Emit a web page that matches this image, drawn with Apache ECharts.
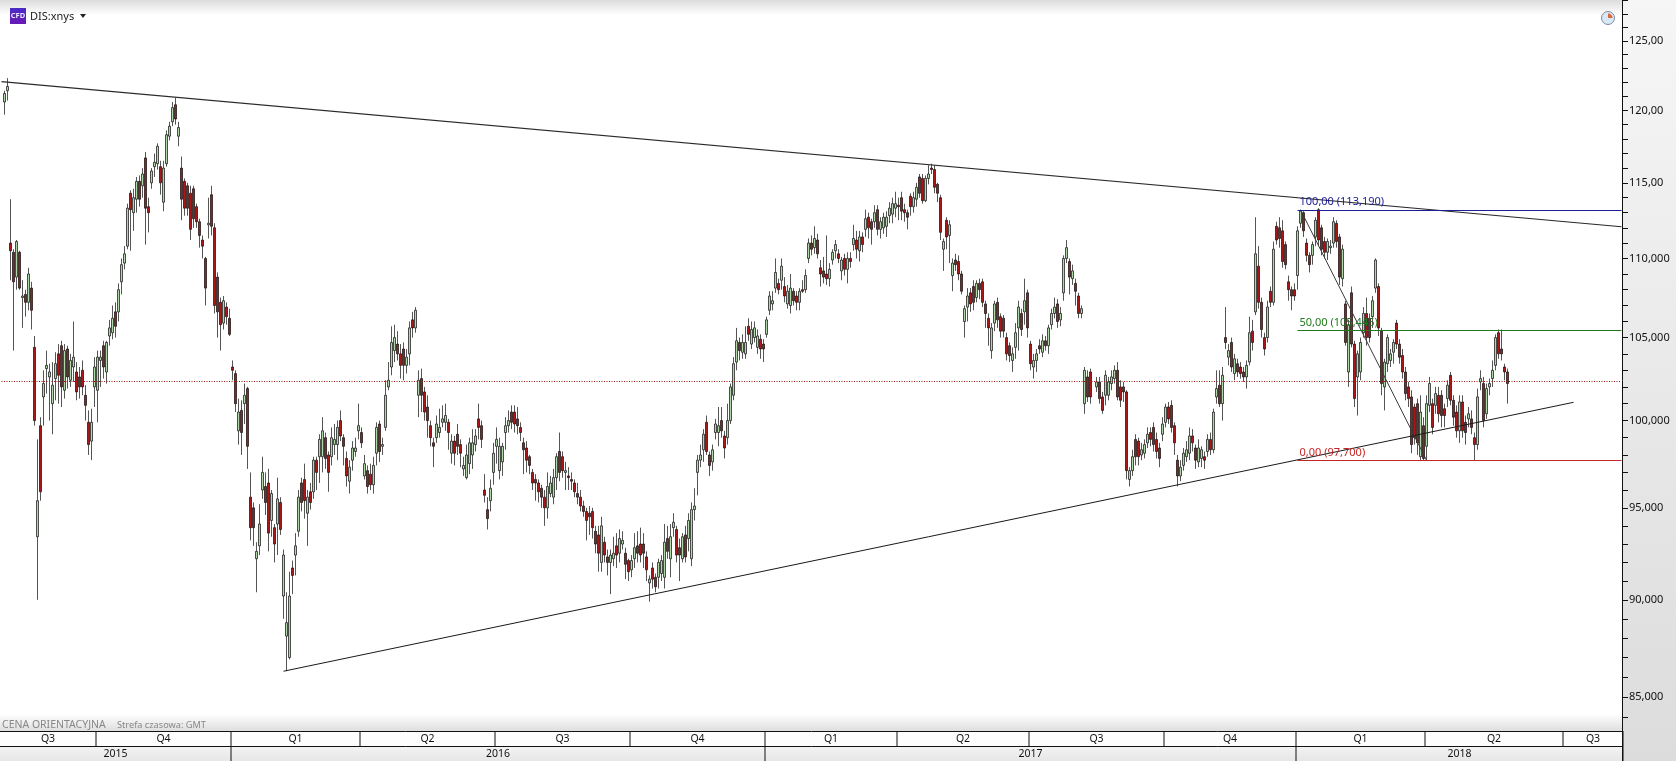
<!DOCTYPE html>
<html><head><meta charset="utf-8">
<style>html,body{margin:0;padding:0;background:#fff}#c{width:1676px;height:761px}</style>
<script src="https://cdn.jsdelivr.net/npm/echarts@6/dist/echarts.min.js"></script></head>
<body><div id="c"></div>
<script>
// rows: [open, close, low, high]
const ohlc2015=[
['-','-','-','-'],[120.6,121.2,119.7,121.4],[121.4,121.7,120.7,122.3],[111,110.5,108.6,113.9],[110.4,108.5,104.2,110.6],[108.8,111.1,108,111.2],[110.4,108.1,108,110.5],[107.5,107.6,105.6,108.6],[107.7,107.2,106.3,108],[107.2,109,106.7,109.4],[108.1,106.7,105.5,108.5],
[104.4,100,99.7,105.1],[93.4,95.4,90,98.9],[99.7,95.9,95.4,100.2],[101.4,102.2,99.7,103],[103.1,103.3,101.6,104.2],[102.6,102.9,100,103.4],[101,102.1,99.2,103.5],[102.5,103.4,101.2,104.1],[104,102.7,101,104.6],[104.5,102,100.8,104.8],[101.8,104.2,101.3,104.6],[104.3,102.6,101.9,104.5],[102.4,103.6,102,104],[103.2,103.8,102.3,106],[102.9,101.7,101.2,103.5],[102.6,102,101.3,103.2],[103,102,101.5,103.6],[101.5,100.9,100,102.1],[99.9,98.6,98,100.6],[98.8,99.9,97.7,100.7],[102,103.2,100.8,103.8],[101.8,103.8,99.9,104.2],[103.6,103.8,102,104.2],[104.5,103.2,102.5,104.8],[102.9,104.7,102.2,104.8],[105.1,105.6,104.5,106.1],[105.3,106.2,104.9,107],[106.6,105.7,105,107.2],[106.6,108,106,108.4],[108.5,109.6,107.7,110],[109.7,110.3,109.3,110.8],[110.8,113.3,110.6,113.6],[114.3,113.2,110.5,114.5],[113,114,111.8,114.6],[113.9,115.1,113,115.4],[115.1,113.9,113.4,115.5],[114.8,115.6,114,116],[116.7,113.3,110.9,117.1],[113.4,113,111.7,114],[115,115.8,114.6,116],[116.1,116.4,115.4,117],[116.3,117.5,115.9,117.7],[116.1,115,114.2,116.5],[113.7,116,113.1,116.5],[116.3,118.3,116.1,118.6],[118.2,118.9,117.9,119.2],[119.2,120.2,118.9,120.6],[120.4,119.4,119,120.9],[118.2,118.8,117.5,119.2],[116,113.9,112.5,116.8],[115.1,113.3,112.8,115.3],[114.8,113.3,112.8,115],[114.3,111.9,111.2,114.8],[114.6,112.6,112,114.8],[113.4,112.4,112,113.6],[112.4,111.5,110.7,112.6],[111.2,110.8,110,111.5],[110,108.1,107,110.1],[112.2,112.3,111.3,114],[114.2,112.1,111.5,114.8],[112,107,106.5,112.3],[108.8,106.6,105,109.1],[107.2,105.8,104.2,107.5],[105.9,107.3,105.5,107.6],[106.9,106.3,105.8,107.2],[106.2,105.2,105.1,106.8]];
const ohlc2016a=[
[103.2,103,102.4,103.6],[102.8,101,100.5,103],[99.4,100.5,98.6,101.3],[100.6,99.3,98,101.2],[101,101.5,99.8,102.2],[101.9,98.5,97.2,102],[95.6,93.9,93.2,97],[95,93.9,92.9,95.3],[92.2,92.6,90.4,93.1],[92.9,94.1,92.4,95.2],[96,97,95.5,97.9],[96.2,95.3,94.6,97],[96.4,93.6,92.6,97.2],[94.3,95.8,93.4,96],[93.9,93,92,94.1],[94.1,95.5,92.4,96.7],[95.3,93.8,93.5,95.6],[90.2,92.4,89,92.7],[88.1,88.8,86.3,90.4],[87,90.2,86.9,91.5],[91.7,91.3,90.3,92.1],[92.4,92.9,91.3,93.6],[93.7,95.6,93.4,96],[96.4,95.3,94.8,96.7],[96.6,95.4,94.4,97.5],[94.7,95.6,92.9,96],[95.9,95.3,94.9,96.4],[95.9,97.7,95.5,97.9],[97.7,97,96,97.9],[97.9,98.9,96.4,99.2],[97.9,99.4,97,100.2],[99,97.8,97.2,99.3],[98,97,95.9,98.2],[97.9,99,97.4,99.6],[98.6,98.9,98,99.8],[98.6,99.6,97.7,100],[100,99.1,98.8,100.6],[99,98.5,97.4,99.2],[97.8,96.8,96.2,98.2],[96.5,97.3,95.8,97.7],[97.7,98.4,97.1,98.8],[98.2,98.4,97.9,99],[99.4,99.7,98.9,101],[99.3,98.7,98.4,99.6],[96.8,97.5,96.6,98],[97.1,96.2,95.8,97.4],[96.9,96.3,96,97.5],[96.3,97.4,95.8,97.9],[98.1,99.6,97.4,99.9],[99.8,98.2,97.6,100],[98.5,98.6,98,99],[99.6,101.5,99.4,102.4],[102,102.4,101.8,103.5],[103.2,104.7,102.7,105.7],[104.2,105,103.5,105.8],[104.6,104,103.6,105.4],[104,103.3,102.5,104.6],[104.3,103.3,102.4,104.7],[103.3,103.8,102.8,104.3],[104,105.6,103.3,106],[106.1,105.6,105,106.6],[105.6,106.7,105.3,106.9]];
const ohlc2016b=[
[101.5,102.4,100.2,103],[102.5,101.5,100.5,103.1],[101.7,100.5,100,102],[100.8,100,99,101.5],[99.7,99,98.5,100],[98.7,98.5,97.3,99],[99,99.8,98.7,100.3],[99.3,99.6,99,100.7],[99.9,100.1,99.6,100.9],[99.9,100.3,99.4,101],[99.9,99.3,98.3,100.1],[98.1,98.8,97.5,99.2],[98.8,98.1,97.4,99.1],[99.2,98.5,98,99.8],[98.6,98.1,97.3,98.9],[97.2,97.4,96.8,97.9],[96.7,98,96.6,98.6],[97.5,98.7,96.9,99],[98,98.7,97.2,99.5],[98.6,99.1,98.2,99.5],[100.1,99.6,98.9,101],[99.7,98.9,98.4,100],[96,95.7,95.3,96.9],[94.9,94.4,93.8,95.6],[95.4,96.1,94.8,96.6],[97,98.1,96.3,98.7],[98.5,98.9,97.5,99.6],[97.1,98.5,96.6,99],[97.6,98.5,96.8,98.7],[99.3,99.7,98.3,100.2],[99.7,100,99.3,100.6],[100.5,99.9,99.5,100.9],[100.5,99.8,99.3,100.9],[100.1,99.7,99.2,100.8],[99.6,99.3,98.8,99.9],[98.7,98.3,96.9,99],[98.4,97.7,97,98.8],[97.9,97.4,96.9,98],[97,96.4,96,97.2],[96.6,96.4,95.4,96.9],[96.4,95.9,95.3,96.6],[96.1,95.6,95,96.3],[95.6,95,94,96],[95,96.2,94.4,97],[95.8,96.4,95.6,96.8],[95.6,96.7,95.2,97.2],[96.7,97.9,96,98.1],[98.2,97,96.5,99.3],[97.9,97.1,96.7,98.2],[97,97.1,96,97.6],[96.8,96.7,96,97.3],[96.6,96.5,96,97],[96.4,95.9,95.6,96.6],[95.8,95.6,95.2,96.4],[95.6,95.1,94.8,96],[95.1,94.8,94.5,95.4],[94.8,94.3,93.2,95],[94.7,94.5,93.5,95.1],[94.8,93.9,93.3,95],[93.7,93,92.5,94],[93.5,92.5,91.5,94],[92,94,91.5,94.5],[93.1,92.4,92,93.4],[92.3,92,91.3,92.7],[92,92.4,90.3,92.7],[92.2,92.5,91.8,93.4],[92.9,92.4,91.7,93.6],[92.5,93.3,92,93.8],[93,93.2,92.7,93.7],[92.5,91.9,91.1,92.8],[92.1,91.5,91,92.2],[91.6,92.1,91.2,92.4],[92.2,92.8,91.7,93.6],[92.9,92.5,92,93.7],[93,92.4,92,93.9],[93,92.5,91.7,93.6],[92.3,91.6,91,92.6],[90.9,91.1,89.9,91.3],[91.7,91.1,90.6,92],[91.2,90.7,90.4,91.4],[91.2,92,90.6,92.2],[91.4,92.1,91,92.4],[91.2,93.1,90.6,94.1],[93.3,92.6,92.2,94],[92.2,93.4,91.2,94.1],[93.9,94.2,93.4,94.7],[93.8,92.4,92,94],[92.8,92.4,91,93.3],[92.2,93.4,92,93.6],[93.5,92.3,92,94],[93.3,94.3,92.6,94.7],[92.2,94.9,91.8,95.3],[94.9,95.1,94.3,96.1],[97,97.7,95.7,98],[97.7,98,97.3,98.6],[98.3,99.2,97.6,99.5],[99.9,98.2,98,100.3],[98,97.4,96.8,98.2],[97.6,98.3,97.1,98.6],[99.3,99.8,98.9,100.1],[99.3,99.7,98.5,100.8],[100,99.4,99,100.8],[99.1,98.4,97.8,99.4],[99,100,98.6,101],[100,102,99.8,102.2],[101.5,103.4,101.2,103.8],[103.5,104.8,103,105.6],[104.7,104.2,103.6,105],[104.1,104.7,103.7,105.2],[104,104.7,103.7,105.7],[105.7,105.2,104.8,106.2],[104.6,105.5,104.3,106],[105,105.6,104.7,106],[104.4,105.1,104,105.5],[104.9,104.3,103.7,105.2],[104.6,104.3,103.5,104.9]];
const ohlc2017a=[
[105.2,106.1,105,106.3],[106.7,107.6,106.4,107.9],[107.1,107.3,106.7,107.9],[108.1,109.1,107.8,110],[108.4,108,107.7,108.7],[108.6,109.5,108,110],[108.2,107.6,107.2,108.8],[107.1,107.9,106.8,108.3],[107,108.1,106.5,109],[107.9,107.3,107,108.1],[107.6,107.2,106.7,107.9],[107.2,107.9,106.7,108.1],[108,107.9,107.8,108.6],[108,108.9,107.8,109.3],[110,111,109.7,111.3],[111,110.6,110.2,111.5],[110.7,111.3,110.3,112.1],[111.2,110.3,110,111.6],[109.4,109,108.2,109.9],[109.2,108.8,108.4,110.1],[109,108.7,108.3,111.5],[108.7,109.3,108.2,109.7],[109.9,110.4,109.6,110.6],[110.5,110.9,110,111.2],[110.3,110,109.7,110.6],[109.2,109.9,108.6,110.1],[110,109.3,108.9,110.3],[109.3,110,108.4,110.4],[110,109.8,109.4,110.4],[110.9,111.3,110.5,112.2],[111.2,110.6,110,111.8],[110.5,111.4,109.8,111.8],[111.4,110.9,110.4,111.7],[111.9,112.6,111.4,113.2],[112.7,112,111.3,113],[112.4,111.9,110.9,112.6],[112.4,113,112,113.5],[113.2,111.9,111.5,113.5],[111.9,112.4,111.3,112.7],[112,112.7,111.6,113],[112.1,112.7,111.4,113.1],[112.8,113.3,112.3,113.7],[112.9,113.6,112.3,114],[113.3,113.6,112.7,114.4],[113.5,113.4,112.5,114],[114,113.1,112.5,114.4],[113.2,113,112.4,113.6],[113,112.7,111.9,113.2],[114.1,113.4,112.8,114.3],[113.4,114,113,114.4],[113.9,114.7,113.4,115],[115.4,114.3,114,115.6],[115.3,113.8,113.6,115.6],[113.8,115.3,113.7,115.5],[115.3,115.6,114.9,116.2],[116,115.9,115.6,116.3],[115.9,114.7,114.3,116.2],[114.9,114.3,113.7,115],[114,111.7,111.2,114.2],[110.6,111.1,109.2,111.3],[112.5,111.4,110.6,112.7],[111.5,112.2,109.7,112.5]];
const ohlc2017b=[
[108.9,109.7,107.9,110],[109.9,109.6,109.2,110.3],[109.8,109,108.6,110.2],[109,107.9,107.7,109.2],[106,106.8,105,107],[106.9,107.6,106,108.1],[107.8,107.1,106.6,108.1],[108.2,107.2,106.7,108.6],[107.5,108.4,107.2,108.6],[108.4,108,107.4,108.7],[108.5,107.2,106.9,108.7],[107.1,106.5,105.6,107.3],[106.2,105.6,104.5,106.5],[104.2,105.6,103.7,105.9],[105.9,107.1,105.4,107.3],[107.2,106.1,105.6,107.5],[106.3,105.4,105,106.5],[106.2,105.4,105,106.4],[105,104,103.6,105.3],[104.5,103.9,103.5,104.7],[103.6,104,102.9,104.4],[104.4,105.3,103.7,105.9],[105.6,106.9,104.2,107.3],[106.5,105.5,105.1,106.8],[106.6,107.3,105.8,108.7],[107.8,105.6,105,108],[104.6,103.4,103,104.8],[103.2,103.6,102.5,104],[103.6,104,102.9,104.3],[104.5,104.3,104,104.9],[104.1,104.8,103.8,105.2],[104.8,104.5,104.2,105.1],[104.5,105.6,104,105.8],[105.8,106.5,105.5,106.8],[106.5,106.9,106.2,107.5],[107.1,106,105.6,107.4],[106.1,106.5,105.7,106.9],[107.8,110,107.3,110.2],[110,110.7,109.7,111.2],[109.8,108.8,107.7,110],[108.7,109.2,108.3,109.6],[108.4,107.9,107,108.7],[107.6,106.5,106.2,107.8],[106.5,106.8,106.2,107]];
const ohlc2017c=[
[101,103,100.4,103.2],[102.6,101.4,101.1,103],[102.9,101.4,101,103.1],['-','-','-','-'],[102,102.3,101.7,102.6],[102.3,101.3,101,102.6],[101.4,100.6,100.4,101.7],[101.5,102.7,100.9,103],[101.5,102.3,101.2,102.6],[102.2,102.6,101.8,103],[102.5,103,102.2,103.3],[103,101.4,101.2,103.5],[102,101.2,100.8,102.4],[102,101.7,101.1,102.3],[101.7,97.1,96.6,101.8],[96.6,97.1,96.2,97.3],[97.1,97.9,96.8,98.3],[98.9,97.9,97.4,99.2],[98.8,97.9,97.4,99],[98,98.3,97.7,98.7],[98.1,98.6,97.8,98.9],[98.7,99.2,98.4,99.6],[99.3,98.9,98.5,99.6],[99.6,98.6,98.2,99.9],[98.9,98.2,97.8,99.3],[98.4,97.8,97.3,98.7],[99.2,99.8,98.8,100.2],[99.9,100.8,99.6,101],[100.8,100.1,99.8,101.1],[100.9,99.6,99.3,101.2],[99.7,98.7,98,99.9],[97.7,96.8,96.2,98],[96.8,97.3,96.5,97.7],[97.4,98.1,97.1,98.4],[97.9,98.3,97.6,98.8],[98.1,99.1,97.7,99.6],[99.1,98.7,98.2,99.5],[98.4,97.7,97.2,98.6],[97.6,98.4,97.3,98.9],[97.8,98.3,97.3,98.5],[97.9,97.7,97.2,98.2],[98.2,98.9,97.9,99.2],[98.9,98.3,98,99.3],[98.3,100.5,98.1,100.7],[101.4,101.9,101,103],[102.1,101,100.8,103],[101,102.7,100,103.2],[105,104.7,104.3,106.9],[103.8,104.2,103.3,104.6],[104.7,103.2,102.9,105],[102.8,103.7,102.4,104],[103.4,102.9,102.6,103.7],[103.2,102.8,102.5,103.5],[102.9,102.6,102.3,103.2],[102.6,103.3,101.9,103.6],[103.5,105.3,103.3,106.3],[105.4,104.7,104.2,106.1],[106.6,110.3,106.4,112.7],[109.5,107.2,106.8,110.8],[107.2,105.5,105,107.5],[105,104.3,103.9,105.3],[105,106.9,104.7,107.3],[107.9,107.2,106.9,108.2],[107.2,110.6,107,111.1],[112.1,111.2,110.9,112.4],[112,111.3,110.7,112.7],[111.8,109.8,109.4,112.5],[110.9,109.6,109.3,111.1],[108.5,108,107.3,108.9],[108,107.6,106.7,108.2],[108,107.6,107.3,108.4]];
const ohlc2018=[
[108.9,111.8,108,112.1],[112.3,113.1,112,113.2],[113,111.8,111.4,113.1],[111,110.2,109.8,111.3],[110.2,109.6,109.1,110.4],[110.2,110.9,109.6,111.1],[111.4,112.5,110.8,112.7],[113.2,111.2,110.8,113.3],[112,110.6,110.2,112.2],[111.1,110.4,110,111.4],[110.4,111.1,109.9,111.3],[110.7,110.8,110.3,111.2],[111,112.4,110.7,112.7],[112.3,111.1,110.7,112.5],[111.4,108.8,108.3,111.6],[108.7,110.6,108.2,110.9],[107.1,104.7,104.5,107.3],[102.9,105.8,102,106.1],[107.8,104.6,104.4,108.2],[104.6,101.3,100.8,104.8],[102.6,104,100.3,104.2],[102.9,104.7,102.4,105],[105.3,106.5,105,106.9],[106.5,105,104.5,107.5],[106.2,105,104.7,106.5],[106.3,107.3,105.6,107.6],[108.1,109.9,107.8,110],[108.2,105.6,105.1,108.4],[105.4,102.2,101.5,105.6],[102,103.5,100.6,103.7],[103.4,105,102.9,105.2],[103.6,104,103.2,104.3],[104.1,104.7,103.4,104.9],[105.9,104.6,104.3,106.1],[104.6,103.8,103.4,104.9],[103.9,102.9,102.5,104.3],[102.9,101.6,101.2,103.2],[102,101.3,100.8,102.3],[101.4,98.6,98.1,101.8],[100.8,99,98.6,101],[101,98.7,98,101.3],[97.9,100.5,97.7,101.5],[99.7,97.8,97.7,100.2],[98.5,101,97.7,101.5],[100.9,102.2,100.5,102.6],[101,99.6,99.2,101.3],[100.9,101.6,100.4,102],[101.5,100.4,99.9,102],[101.5,100.3,99.6,101.8],[100.7,100.3,99.6,101],[101.3,102.1,100.8,102.4],[102.7,101.2,100.9,102.9],[101.2,100.2,99.7,101.5],[100.5,99.4,99,100.9],[99.4,101.1,98.7,101.5],[101.1,99.4,99,101.5],[99.9,99.3,98.6,100.3],[100.1,100.4,99.6,100.8],[100.1,99.6,99.2,100.6],[99,98.6,97.7,99.3],[98.6,101.4,98.3,101.9],[102.3,102.5,101.8,103],[102.2,100,99.6,102.6],[100.4,101.9,100.1,102.2],[102,102.2,101.5,102.5],[102.5,103,102,103.6],[103.3,105,103,105.2],[105.3,104,103.7,105.5],[104.3,104,103.6,105.5],[103.2,102.9,102.4,103.4],[102.9,102.2,101,103.1]];
const segments=[[0,ohlc2015],[77,ohlc2016a],[139,ohlc2016b],[255,ohlc2017a],[317,ohlc2017b],[361,ohlc2017c],[432,ohlc2018]];
const slotCount=541;
const tickValues=[85,90,95,100,105,110,115,120,125];
const tickLabels=['85,000','90,000','95,000','100,000','105,000','110,000','115,00','120,00','125,00'];
const minorTicks=[];for(let v=84;v<=128;v++)minorTicks.push(v);
const quarterLabels=['Q3','Q4','Q1','Q2','Q3','Q4','Q1','Q2','Q3','Q4','Q1','Q2','Q3'];
const quarterEdges=[0,32,77,120,165,210,255,299,343,388,432,475,521,541];
const yearLabels=['2015','2016','2017','2018'];
const yearEdges=[0,77,255,432,541];
const lastPrice=102.35;
const fibLevels=[113.19,105.445,97.7];
const fibLabels=['100,00 (113,190)','50,00 (105,445)','0,00 (97,700)'];
const fibColors=['#1c1c96','#1f7a1f','#c42626'];
const upperTrend=[[0,122.05],[540,112.07]];
const lowerTrend=[[94,86.3],[524,101.08]];
const fibDiagonal=[[433,113.19],[475,97.7]];

const categories=[];for(let i=0;i<slotCount;i++)categories.push('d'+i);
const candles=categories.map(()=>['-','-','-','-']);
segments.forEach(([s,rows])=>rows.forEach((r,i)=>{candles[s+i]=r;}));
const font='"Noto Sans","DejaVu Sans",sans-serif';
const black='#111';
const markData=[
 [{coord:[0,lastPrice],lineStyle:{color:'#a01414',type:[1,1.5],width:1.2},label:{show:false}},{coord:[540,lastPrice]}],
 [{coord:upperTrend[0],lineStyle:{color:'#2a2a2a',type:'solid',width:1.2},label:{show:false}},{coord:upperTrend[1]}],
 [{coord:lowerTrend[0],lineStyle:{color:'#1a1a1a',type:'solid',width:1},label:{show:false}},{coord:lowerTrend[1]}],
 [{coord:fibDiagonal[0],lineStyle:{color:'#3a3a3a',type:'solid',width:1},label:{show:false}},{coord:fibDiagonal[1]}]
];
fibLevels.forEach((v,i)=>markData.push([
 {coord:[432,v],lineStyle:{color:fibColors[i],type:'solid',width:1},
  label:{show:true,position:'insideStartTop',formatter:fibLabels[i],color:fibColors[i],fontFamily:font,fontSize:11,distance:2}},
 {coord:[540,v]}]));

function stripRender(labels,edges,yTop,yBottom){
 return function(params,api){
  const i=params.dataIndex,band=api.size([1,0])[0];
  const edge=k=>k===0?0:api.coord([k-1,100])[0]+band/2;
  const x0=edge(edges[i]),x1=edge(edges[i+1]);
  return {type:'group',children:[
   {type:'line',shape:{x1:x1,y1:yTop,x2:x1,y2:yBottom},style:{stroke:black,lineWidth:1}},
   {type:'text',style:{x:(x0+x1)/2,y:(yTop+yBottom)/2+.5,text:labels[i],textAlign:'center',textVerticalAlign:'middle',fill:'#111',font:'10.5px '+font}}
  ]};
 };
}
const chart=echarts.init(document.getElementById('c'),null,{renderer:'canvas'});
chart.setOption({
 animation:false,backgroundColor:'#fff',
 grid:{left:0,right:53,top:0,bottom:30,containLabel:false},
 graphic:{elements:[
  {type:'rect',z:-1,shape:{x:0,y:0,width:1623,height:15},style:{fill:new echarts.graphic.LinearGradient(0,0,0,1,[{offset:0,color:'#dcdcdc'},{offset:1,color:'#ffffff'}])}},
  {type:'rect',z:-1,shape:{x:0,y:714,width:1623,height:17},style:{fill:new echarts.graphic.LinearGradient(0,0,0,1,[{offset:0,color:'#ffffff'},{offset:1,color:'#dedede'}])}},
  {type:'rect',z:-1,shape:{x:0,y:731,width:1623,height:15},style:{fill:'#fdfdfd'}},
  {type:'rect',z:-1,shape:{x:0,y:746,width:1623,height:15},style:{fill:new echarts.graphic.LinearGradient(0,0,0,1,[{offset:0,color:'#f4f4f4'},{offset:1,color:'#e6e6e6'}])}},
  {type:'rect',z:-1,shape:{x:1623,y:0,width:53,height:761},style:{fill:new echarts.graphic.LinearGradient(0,0,0,1,[{offset:0,color:'#f6f6f6'},{offset:1,color:'#dcdcdc'}])}},
  {type:'line',z:5,shape:{x1:0,y1:731.5,x2:1623,y2:731.5},style:{stroke:black,lineWidth:1}},
  {type:'line',z:5,shape:{x1:0,y1:746.5,x2:1623,y2:746.5},style:{stroke:black,lineWidth:1}},
  {type:'line',z:5,shape:{x1:1622.5,y1:0,x2:1622.5,y2:761},style:{stroke:black,lineWidth:1}},
  {type:'rect',z:5,shape:{x:10,y:8,width:16,height:16},style:{fill:new echarts.graphic.LinearGradient(0,0,0,1,[{offset:0,color:'#4a2bc8'},{offset:1,color:'#6a18b4'}])}},
  {type:'text',z:6,style:{x:18,y:16,text:'CFD',textAlign:'center',textVerticalAlign:'middle',fill:'#e8e8ff',font:'bold 7.5px '+font}},
  {type:'text',z:6,style:{x:30,y:17,text:'DIS:xnys',textVerticalAlign:'middle',fill:'#222',font:'11px '+font}},
  {type:'polygon',z:6,shape:{points:[[80,14],[86,14],[83,18]]},style:{fill:'#222'}},
  {type:'circle',z:6,shape:{cx:1608,cy:18,r:6.5},style:{fill:'#d8e8f4',stroke:'#7c8ca4',lineWidth:1}},
  {type:'sector',z:7,shape:{cx:1608,cy:18,r:4.5,startAngle:-Math.PI/2,endAngle:0},style:{fill:'#e0653c'}},
  {type:'text',z:6,style:{x:2,y:725,text:'CENA ORIENTACYJNA',textVerticalAlign:'middle',fill:'#888',font:'10.5px '+font}},
  {type:'text',z:6,style:{x:117,y:725,text:'Strefa czasowa: GMT',textVerticalAlign:'middle',fill:'#888',font:'9.2px '+font}}
 ]},
 xAxis:{type:'category',data:categories,boundaryGap:true,axisLine:{show:false},axisTick:{show:false},axisLabel:{show:false},splitLine:{show:false}},
 yAxis:{type:'log',logBase:10,position:'right',min:83.32,max:128.05,
  axisLine:{show:false},splitLine:{show:false},minorTick:{show:false},minorSplitLine:{show:false},
  axisTick:{show:true,length:5,lineStyle:{color:black,width:1},customValues:minorTicks},
  axisLabel:{show:true,margin:6,color:'#111',fontFamily:font,fontSize:11,customValues:tickValues,
   formatter:v=>{const i=tickValues.indexOf(Math.round(v));return i<0?'':tickLabels[i];}}},
 series:[
  {type:'candlestick',data:candles,barWidth:3.4,clip:true,silent:true,
   itemStyle:{color:'#b0d8a8',color0:'#a81818',borderColor:'#0c0c0c',borderColor0:'#0c0c0c',borderWidth:0.7},
   markLine:{silent:true,symbol:'none',animation:false,label:{show:false},data:markData}},
  {type:'custom',silent:true,clip:false,data:quarterLabels.map(()=>[0,100]),encode:{x:0,y:1},z:6,
   renderItem:stripRender(quarterLabels,quarterEdges,731,746)},
  {type:'custom',silent:true,clip:false,data:yearLabels.map(()=>[0,100]),encode:{x:0,y:1},z:6,
   renderItem:stripRender(yearLabels,yearEdges,746,761)}
 ]
});
</script></body></html>
